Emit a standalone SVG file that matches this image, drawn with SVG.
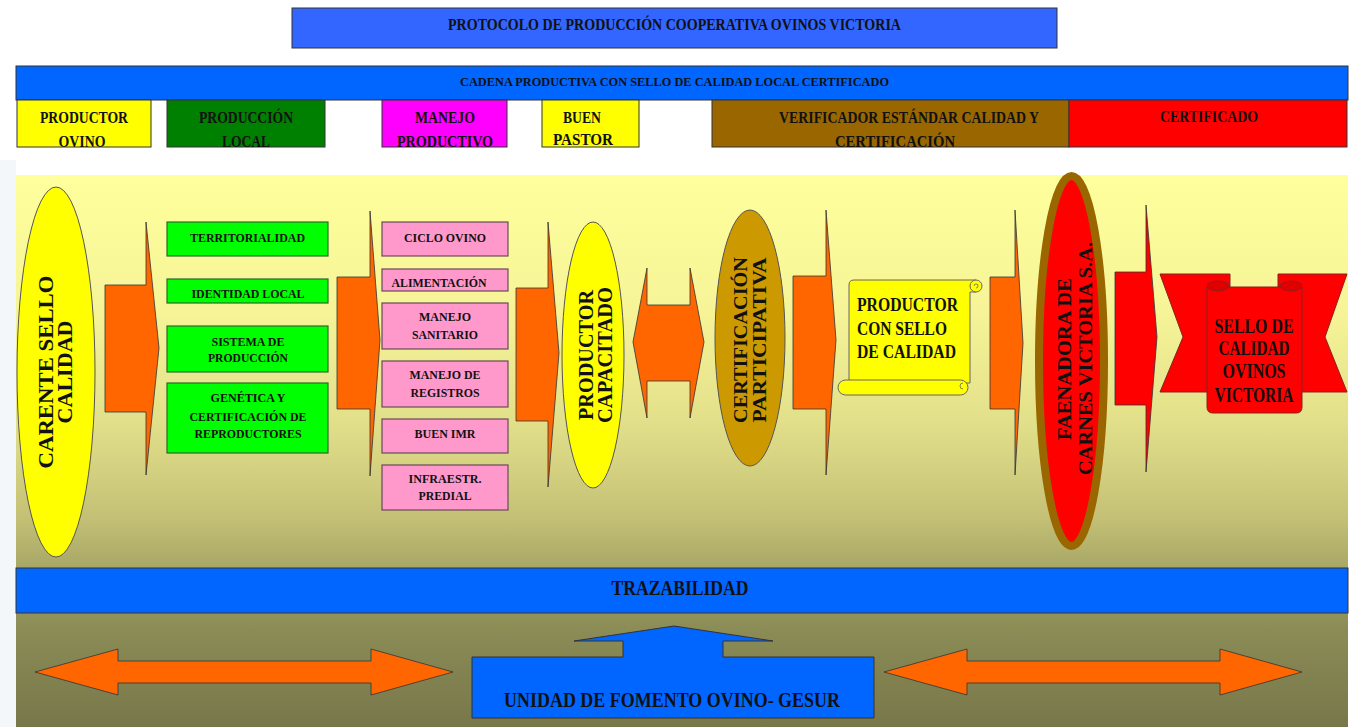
<svg xmlns="http://www.w3.org/2000/svg" width="1357" height="727" viewBox="0 0 1357 727">
<style>
text{font-family:"Liberation Serif","Times New Roman",serif;font-weight:bold;fill:#111;}
.c{text-anchor:middle;}
.blk{stroke:#333;stroke-width:1;}
.arr{fill:#FF6600;stroke:#333;stroke-width:0.8;}
.green{fill:#00FF00;stroke:#2a6a2a;stroke-width:1.2;}
.pink{fill:#FF99CC;stroke:#6a4a5a;stroke-width:1.2;}
.h16{font-size:16px;}
.s12{font-size:12px;}
</style>
<defs>
<linearGradient id="bg" x1="0" y1="175" x2="0" y2="727" gradientUnits="userSpaceOnUse">
<stop offset="0" stop-color="#FFFF9C"/>
<stop offset="0.25" stop-color="#F6F497"/>
<stop offset="0.45" stop-color="#E2DF8A"/>
<stop offset="0.62" stop-color="#C4C176"/>
<stop offset="0.72" stop-color="#A6A464"/>
<stop offset="0.82" stop-color="#8C8C57"/>
<stop offset="1" stop-color="#77774A"/>
</linearGradient>
<clipPath id="hclip"><rect x="0" y="100" width="1357" height="47"/></clipPath>
</defs>
<rect x="0" y="0" width="1357" height="727" fill="#FFFFFF"/>
<rect x="0" y="160" width="16" height="567" fill="#F3F7FA"/>
<rect x="16" y="175" width="1332" height="552" fill="url(#bg)"/>

<g id="title">
<rect x="292" y="8" width="765" height="40" fill="#3366FF" class="blk"/>
<text x="674.5" y="30" class="c h16" textLength="453" lengthAdjust="spacingAndGlyphs">PROTOCOLO DE PRODUCCIÓN COOPERATIVA OVINOS VICTORIA</text>
</g>
<g id="cadena">
<rect x="16" y="66" width="1332" height="34" fill="#0066FF" class="blk"/>
<text x="674.5" y="86" class="c s12" textLength="429" lengthAdjust="spacingAndGlyphs">CADENA PRODUCTIVA CON SELLO DE CALIDAD LOCAL CERTIFICADO</text>
</g>

<g id="h-productor">
<rect x="17" y="100" width="134" height="47" fill="#FFFF00" class="blk"/>
<g clip-path="url(#hclip)">
<text x="84" y="123" class="c h16" textLength="88" lengthAdjust="spacingAndGlyphs">PRODUCTOR</text>
<text x="82" y="147" class="c h16" textLength="47" lengthAdjust="spacingAndGlyphs">OVINO</text>
</g>
</g>
<g id="h-produccion">
<rect x="167" y="100" width="158" height="47" fill="#008000" class="blk"/>
<g clip-path="url(#hclip)">
<text x="246" y="123" class="c h16" textLength="94" lengthAdjust="spacingAndGlyphs">PRODUCCIÓN</text>
<text x="246" y="147" class="c h16" textLength="48" lengthAdjust="spacingAndGlyphs">LOCAL</text>
</g>
</g>
<g id="h-manejo">
<rect x="382" y="100" width="125" height="47" fill="#FF00FF" class="blk"/>
<g clip-path="url(#hclip)">
<text x="445" y="123" class="c h16" textLength="60" lengthAdjust="spacingAndGlyphs">MANEJO</text>
<text x="445" y="147" class="c h16" textLength="96" lengthAdjust="spacingAndGlyphs">PRODUCTIVO</text>
</g>
</g>
<g id="h-buen">
<rect x="542" y="100" width="97" height="47" fill="#FFFF00" class="blk"/>
<g clip-path="url(#hclip)">
<text x="582" y="123" class="c h16" textLength="38" lengthAdjust="spacingAndGlyphs">BUEN</text>
<text x="583" y="145" class="c h16" textLength="60" lengthAdjust="spacingAndGlyphs">PASTOR</text>
</g>
</g>
<g id="h-verificador">
<rect x="712" y="100" width="357" height="47" fill="#996600" class="blk"/>
<g clip-path="url(#hclip)">
<text x="909" y="123" class="c h16" textLength="260" lengthAdjust="spacingAndGlyphs">VERIFICADOR ESTÁNDAR CALIDAD Y</text>
<text x="895" y="147" class="c h16" textLength="120" lengthAdjust="spacingAndGlyphs">CERTIFICACIÓN</text>
</g>
</g>
<g id="h-certificado">
<rect x="1069" y="100" width="278" height="47" fill="#FF0000" class="blk"/>
<text x="1209" y="122" class="c h16" textLength="98" lengthAdjust="spacingAndGlyphs">CERTIFICADO</text>
</g>

<g id="carente">
<ellipse cx="56" cy="372" rx="39" ry="185" fill="#FFFF00" stroke="#555" stroke-width="1"/>
<text transform="translate(53,372) rotate(-90)" x="0" y="0" class="c" font-size="22" textLength="193" lengthAdjust="spacingAndGlyphs">CARENTE SELLO</text>
<text transform="translate(72,372) rotate(-90)" x="0" y="0" class="c" font-size="22" textLength="103" lengthAdjust="spacingAndGlyphs">CALIDAD</text>
</g>

<g id="territorialidad"><rect x="167" y="222" width="161" height="34" class="green"/>
<text x="247.5" y="242" class="c s12" textLength="115" lengthAdjust="spacingAndGlyphs">TERRITORIALIDAD</text></g>
<g id="identidad"><rect x="167" y="279" width="161" height="24" class="green"/>
<text x="248" y="298" class="c s12" textLength="113" lengthAdjust="spacingAndGlyphs">IDENTIDAD LOCAL</text></g>
<g id="sistema"><rect x="167" y="326" width="161" height="46" class="green"/>
<text x="248" y="346" class="c s12" textLength="73" lengthAdjust="spacingAndGlyphs">SISTEMA DE</text>
<text x="248" y="362" class="c s12" textLength="80" lengthAdjust="spacingAndGlyphs">PRODUCCIÓN</text></g>
<g id="genetica"><rect x="167" y="383" width="161" height="70" class="green"/>
<text x="248" y="402" class="c s12" textLength="75" lengthAdjust="spacingAndGlyphs">GENÉTICA Y</text>
<text x="248" y="421" class="c s12" textLength="117" lengthAdjust="spacingAndGlyphs">CERTIFICACIÓN DE</text>
<text x="248" y="438" class="c s12" textLength="107" lengthAdjust="spacingAndGlyphs">REPRODUCTORES</text></g>

<g id="ciclo"><rect x="382" y="222" width="126" height="34" class="pink"/>
<text x="445" y="242" class="c s12" textLength="82" lengthAdjust="spacingAndGlyphs">CICLO OVINO</text></g>
<g id="alimentacion"><rect x="382" y="269" width="126" height="22" class="pink"/>
<text x="439" y="287" class="c s12" textLength="95" lengthAdjust="spacingAndGlyphs">ALIMENTACIÓN</text></g>
<g id="sanitario"><rect x="382" y="303" width="126" height="46" class="pink"/>
<text x="445" y="321" class="c s12" textLength="52" lengthAdjust="spacingAndGlyphs">MANEJO</text>
<text x="445" y="339" class="c s12" textLength="66" lengthAdjust="spacingAndGlyphs">SANITARIO</text></g>
<g id="registros"><rect x="382" y="361" width="126" height="46" class="pink"/>
<text x="445" y="379" class="c s12" textLength="71" lengthAdjust="spacingAndGlyphs">MANEJO DE</text>
<text x="445" y="397" class="c s12" textLength="69" lengthAdjust="spacingAndGlyphs">REGISTROS</text></g>
<g id="buenimr"><rect x="382" y="419" width="126" height="34" class="pink"/>
<text x="445" y="438" class="c s12" textLength="61" lengthAdjust="spacingAndGlyphs">BUEN IMR</text></g>
<g id="infraestr"><rect x="382" y="465" width="126" height="45" class="pink"/>
<text x="445" y="483" class="c s12" textLength="73" lengthAdjust="spacingAndGlyphs">INFRAESTR.</text>
<text x="445" y="500" class="c s12" textLength="53" lengthAdjust="spacingAndGlyphs">PREDIAL</text></g>

<g id="capacitado">
<ellipse cx="593" cy="355" rx="31" ry="133" fill="#FFFF00" stroke="#555" stroke-width="1"/>
<text transform="translate(593,355) rotate(-90)" class="c" font-size="20" textLength="130" lengthAdjust="spacingAndGlyphs">PRODUCTOR</text>
<text transform="translate(612,355) rotate(-90)" class="c" font-size="20" textLength="136" lengthAdjust="spacingAndGlyphs">CAPACITADO</text>
</g>

<g id="certificacion">
<ellipse cx="750" cy="338" rx="35" ry="128" fill="#CC9900" stroke="#555" stroke-width="1"/>
<text transform="translate(747,340) rotate(-90)" class="c" font-size="18" textLength="166" lengthAdjust="spacingAndGlyphs">CERTIFICACIÓN</text>
<text transform="translate(766,340) rotate(-90)" class="c" font-size="18" textLength="165" lengthAdjust="spacingAndGlyphs">PARTICIPATIVA</text>
</g>

<g id="productor-sello">
<path d="M849,285 Q849,280 854,280 L976,280 L976,292 L970,292 L970,383 L849,383 Z" fill="#FFFF00" stroke="#666" stroke-width="1"/>
<circle cx="976" cy="286" r="6" fill="#FFFF00" stroke="#666" stroke-width="1"/>
<path d="M976,286 m-2,0 a2,2 0 1,1 2,2" fill="none" stroke="#666" stroke-width="0.8"/>
<rect x="838" y="380" width="130" height="15" rx="7.5" fill="#FFFF00" stroke="#666" stroke-width="1"/>
<path d="M963,383 a3,3 0 1,0 0,6" fill="none" stroke="#666" stroke-width="0.8"/>
<text x="857" y="311" font-size="19" textLength="101" lengthAdjust="spacingAndGlyphs">PRODUCTOR</text>
<text x="857" y="335" font-size="19" textLength="90" lengthAdjust="spacingAndGlyphs">CON SELLO</text>
<text x="857" y="358" font-size="19" textLength="99" lengthAdjust="spacingAndGlyphs">DE CALIDAD</text>
</g>

<g id="faenadora">
<ellipse cx="1071.5" cy="361" rx="32.5" ry="185" fill="#FF0000" stroke="#996600" stroke-width="8"/>
<text transform="translate(1071,359) rotate(-90)" class="c" font-size="19" textLength="162" lengthAdjust="spacingAndGlyphs">FAENADORA DE</text>
<text transform="translate(1092,358.5) rotate(-90)" class="c" font-size="19" textLength="233" lengthAdjust="spacingAndGlyphs">CARNES VICTORIA S.A.</text>
</g>

<g id="sello-calidad">
<polygon points="1160,274 1230,274 1230,392 1160,392 1183,337" fill="#FF0000" stroke="#8a2020" stroke-width="1"/>
<polygon points="1278,274 1347,274 1325,337 1347,392 1278,392" fill="#FF0000" stroke="#8a2020" stroke-width="1"/>
<path d="M1207,287 L1302,287 L1302,407 Q1302,413 1296,413 L1213,413 Q1207,413 1207,407 Z" fill="#FF0000" stroke="#8a2020" stroke-width="1"/>
<ellipse cx="1218" cy="286" rx="11" ry="5" fill="#E00000" stroke="#8a2020" stroke-width="1"/>
<ellipse cx="1291" cy="286" rx="11" ry="5" fill="#E00000" stroke="#8a2020" stroke-width="1"/>
<text x="1254" y="333" class="c" font-size="20" textLength="79" lengthAdjust="spacingAndGlyphs">SELLO DE</text>
<text x="1254" y="355" class="c" font-size="20" textLength="71" lengthAdjust="spacingAndGlyphs">CALIDAD</text>
<text x="1254" y="378" class="c" font-size="20" textLength="63" lengthAdjust="spacingAndGlyphs">OVINOS</text>
<text x="1254" y="402" class="c" font-size="20" textLength="79" lengthAdjust="spacingAndGlyphs">VICTORIA</text>
</g>

<g id="trazabilidad">
<rect x="16" y="568" width="1332" height="45" fill="#0066FF" class="blk"/>
<text x="680" y="595" class="c" font-size="20" textLength="137" lengthAdjust="spacingAndGlyphs">TRAZABILIDAD</text>
</g>

<g id="unidad">
<polygon points="472,718 472,657 623,657 623,641 574,641 674,626 773,641 723,641 723,657 874,657 874,718" fill="#0066FF" class="blk"/>
<text x="672" y="707" class="c" font-size="20" textLength="336" lengthAdjust="spacingAndGlyphs">UNIDAD DE FOMENTO OVINO- GESUR</text>
</g>

<g id="connectors">
<polygon class="arr" points="105,285 146,285 146,222 159,348 146,475 146,412 105,412"/>
<polygon class="arr" points="337,277 370,277 370,211 380,340 370,476 370,409 337,409"/>
<polygon class="arr" points="516,288 548,288 548,222 559,353 548,487 548,421 516,421"/>
<polygon class="arr" points="633,342 647,268 647,305 690,305 690,268 704,342 690,418 690,381 647,381 647,418"/>
<polygon class="arr" points="793,276 826,276 826,210 836,340 826,475 826,409 793,409"/>
<polygon class="arr" points="990,277 1015,277 1015,210 1023,343 1015,475 1015,409 990,409"/>
<polygon points="1115,272 1146,272 1146,205 1157,337 1146,472 1146,405 1115,405" fill="#FF0000" stroke="#333" stroke-width="0.8"/>
<polygon class="arr" points="35,672 118,649 118,661 371,661 371,649 453,672 371,695 371,683 118,683 118,695"/>
<polygon class="arr" points="884,672 967,649 967,661 1220,661 1220,649 1302,672 1220,695 1220,683 967,683 967,695"/>
</g>
</svg>
